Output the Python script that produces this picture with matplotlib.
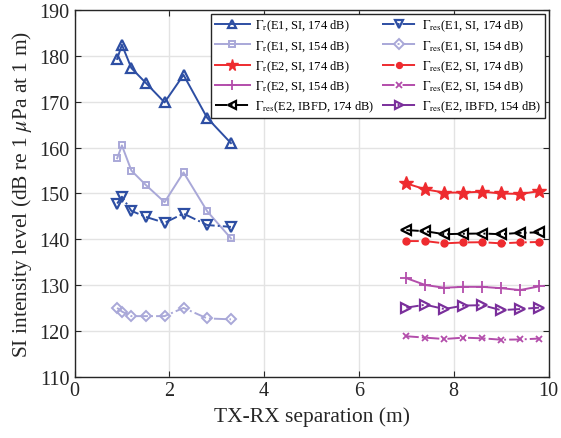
import matplotlib
matplotlib.use("Agg")
import matplotlib.pyplot as plt

plt.rcParams["font.family"] = ["Liberation Serif", "DejaVu Serif"]
plt.rcParams["mathtext.fontset"] = "stix"

# Experiment 1 (short separations)
x_e1 = [0.9, 1.0, 1.2, 1.5, 1.9, 2.3, 2.8, 3.3]
gr_e1_174 = [179.4, 182.5, 177.4, 174.2, 169.9, 175.9, 166.5, 161.0]
gr_e1_154 = [157.7, 160.5, 155.0, 151.9, 148.1, 154.6, 146.1, 140.2]
gres_e1_174 = [147.8, 149.3, 146.2, 144.9, 143.6, 145.6, 143.1, 142.7]
gres_e1_154 = [125.0, 124.2, 123.2, 123.2, 123.2, 125.0, 122.7, 122.5]

# Experiment 2 (long separations)
x_e2 = [7.0, 7.4, 7.8, 8.2, 8.6, 9.0, 9.4, 9.8]
gr_e2_174 = [152.2, 150.9, 150.2, 150.2, 150.4, 150.0, 149.9, 150.5]
gres_e2_174 = [139.6, 139.6, 139.1, 139.3, 139.35, 139.1, 139.3, 139.4]
gr_e2_154 = [131.5, 130.0, 129.4, 129.6, 129.6, 129.3, 128.9, 129.7]
gres_e2_154 = [118.8, 118.5, 118.2, 118.5, 118.35, 118.05, 118.1, 118.3]
gres_ibfd_174 = [142.0, 141.75, 141.1, 141.2, 141.25, 141.1, 141.4, 141.5]
gres_ibfd_154 = [125.05, 125.7, 124.75, 125.5, 125.6, 124.5, 124.75, 125.05]

blue = "#2d4ea3"
lilac = "#a9a8d8"
red = "#ee2b2f"
magenta = "#b34dab"
purple = "#7a2f9b"

fig = plt.figure(figsize=(5.61, 4.39), dpi=100)
ax = fig.add_axes([0.1328, 0.140, 0.845, 0.834])

lw = 1.4
# left legend column: received levels (+ IBFD 174 dB)
ax.plot(x_e1, gr_e1_174, "-", color=blue, lw=lw, marker="^", ms=7, mfc="none",
        mew=1.6, label=r"$\Gamma_{\mathrm{r}}$(E1, SI, 174 dB)")
ax.plot(x_e1, gr_e1_154, "-", color=lilac, lw=lw, marker="s", ms=5, mfc="none",
        mew=1.4, label=r"$\Gamma_{\mathrm{r}}$(E1, SI, 154 dB)")
ax.plot(x_e2, gr_e2_174, "-", color=red, lw=lw, marker="*", ms=10,
        label=r"$\Gamma_{\mathrm{r}}$(E2, SI, 174 dB)")
ax.plot(x_e2, gr_e2_154, "-", color=magenta, lw=lw, marker="+", ms=8, mew=1.3,
        label=r"$\Gamma_{\mathrm{r}}$(E2, SI, 154 dB)")
ax.plot(x_e2, gres_ibfd_174, "-.", color="black", lw=lw, marker="<", ms=7,
        mfc="none", mew=1.6, label=r"$\Gamma_{\mathrm{res}}$(E2, IBFD, 174 dB)")
# right legend column: residual levels
ax.plot(x_e1, gres_e1_174, "-.", color=blue, lw=lw, marker="v", ms=7, mfc="none",
        mew=1.6, label=r"$\Gamma_{\mathrm{res}}$(E1, SI, 174 dB)")
ax.plot(x_e1, gres_e1_154, "-.", color=lilac, lw=lw, marker="D", ms=5.5, mfc="none",
        mew=1.4, label=r"$\Gamma_{\mathrm{res}}$(E1, SI, 154 dB)")
ax.plot(x_e2, gres_e2_174, "-.", color=red, lw=lw, marker="o", ms=5,
        label=r"$\Gamma_{\mathrm{res}}$(E2, SI, 174 dB)")
ax.plot(x_e2, gres_e2_154, "-.", color=magenta, lw=lw, marker="x", ms=5, mew=1.3,
        label=r"$\Gamma_{\mathrm{res}}$(E2, SI, 154 dB)")
ax.plot(x_e2, gres_ibfd_154, "-.", color=purple, lw=lw, marker=">", ms=7,
        mfc="none", mew=1.6, label=r"$\Gamma_{\mathrm{res}}$(E2, IBFD, 154 dB)")

ax.set_xlim(0, 10)
ax.set_ylim(110, 190)
ax.set_xticks([0, 2, 4, 6, 8, 10])
ax.set_yticks(range(110, 191, 10))
ax.grid(True, color="#e3e3e3", lw=1.0)
ax.set_axisbelow(True)
ax.tick_params(direction="in", top=True, right=True, labelsize=14.5,
               colors="#262626", length=4)
for s in ax.spines.values():
    s.set_color("#262626")
    s.set_linewidth(1.0)

ax.set_xlabel("TX-RX separation (m)", fontsize=15.5, color="#262626")
ax.set_ylabel(r"SI intensity level (dB re 1 $\mu$Pa at 1 m)", fontsize=15.5,
              color="#262626")

ax.legend(ncol=2, loc="upper right", fontsize=9.0, frameon=True, fancybox=False,
          edgecolor="#262626", framealpha=1, handlelength=2.8, handletextpad=0.4,
          columnspacing=0.6, labelspacing=0.38, borderpad=0.3,
          borderaxespad=0.3, markerscale=0.85)

fig.savefig("out.png", dpi=100)
